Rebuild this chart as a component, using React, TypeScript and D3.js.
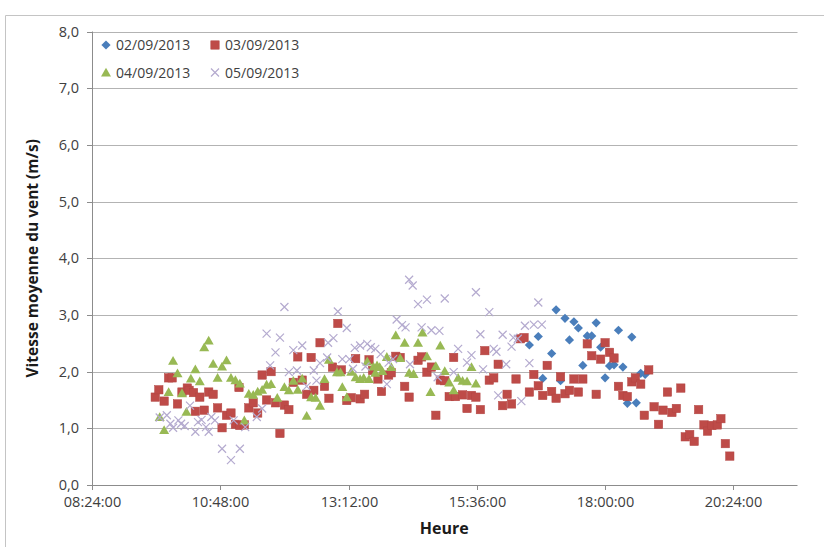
import React from "react";
import * as d3 from "d3";

const seriesNames = ["02/09/2013", "03/09/2013", "04/09/2013", "05/09/2013"];
const seriesColors = ["#4a7ebb", "#be4b48", "#98b954", "#b4aacf"];
const xTickLabels = ["08:24:00", "10:48:00", "13:12:00", "15:36:00", "18:00:00", "20:24:00"];
const yTickValues = [0, 1, 2, 3, 4, 5, 6, 7, 8];
const xTitle = "Heure";
const yTitle = "Vitesse moyenne du vent (m/s)";

const s0209: [string, number][] = [
  ["16:35", 2.47], ["16:45", 2.62], ["16:50", 1.88], ["17:00", 2.32], ["17:05", 3.09], ["17:10", 1.84],
  ["17:15", 2.94], ["17:20", 2.56], ["17:25", 2.88], ["17:30", 2.77], ["17:35", 2.11], ["17:40", 2.63],
  ["17:45", 2.63], ["17:50", 2.86], ["17:55", 2.43], ["18:00", 1.89], ["18:05", 2.1], ["18:10", 2.12],
  ["18:15", 2.73], ["18:20", 2.08], ["18:25", 1.44], ["18:30", 2.61], ["18:35", 1.45], ["18:40", 1.97],
  ["18:45", 1.95],
];

const s0309: [string, number][] = [
  ["09:35", 1.55], ["09:39", 1.68], ["09:45", 1.48], ["09:50", 1.89], ["09:54", 1.89], ["10:00", 1.43],
  ["10:05", 1.64], ["10:11", 1.71], ["10:13", 1.67], ["10:18", 1.63], ["10:20", 1.3], ["10:25", 1.55],
  ["10:30", 1.32], ["10:35", 1.64], ["10:40", 1.6], ["10:45", 1.36], ["10:50", 1.01], ["10:55", 1.23],
  ["11:00", 1.27], ["11:05", 1.07], ["11:09", 1.72], ["11:10", 1.05], ["11:15", 1.06], ["11:20", 1.36],
  ["11:25", 1.45], ["11:30", 1.27], ["11:35", 1.94], ["11:40", 1.5], ["11:45", 2.0], ["11:50", 1.45],
  ["11:55", 0.91], ["12:00", 1.41], ["12:05", 1.33], ["12:10", 1.81], ["12:15", 2.26], ["12:20", 1.85],
  ["12:25", 1.6], ["12:30", 2.25], ["12:33", 1.67], ["12:40", 2.51], ["12:45", 1.74], ["12:50", 1.53],
  ["12:54", 2.08], ["13:00", 2.85], ["13:04", 2.03], ["13:10", 1.49], ["13:15", 1.54], ["13:20", 2.23],
  ["13:25", 1.52], ["13:30", 1.6], ["13:35", 2.21], ["13:39", 2.02], ["13:45", 1.87], ["13:49", 1.65],
  ["13:57", 1.94], ["14:00", 1.98], ["14:05", 2.27], ["14:10", 2.25], ["14:15", 1.74], ["14:20", 1.55],
  ["14:30", 2.2], ["14:34", 2.26], ["14:40", 1.99], ["14:45", 2.08], ["14:50", 1.23], ["14:55", 1.85],
  ["15:00", 1.84], ["15:05", 1.56], ["15:10", 2.25], ["15:12", 1.56], ["15:20", 1.59], ["15:25", 1.35],
  ["15:30", 1.58], ["15:35", 1.55], ["15:40", 1.33], ["15:45", 2.37], ["15:50", 1.85], ["15:55", 1.89],
  ["16:00", 2.13], ["16:05", 1.4], ["16:10", 1.6], ["16:15", 1.43], ["16:20", 1.87], ["16:25", 2.58],
  ["16:29", 2.6], ["16:35", 1.64], ["16:40", 1.95], ["16:45", 1.75], ["16:50", 1.58], ["16:55", 2.11],
  ["17:00", 1.65], ["17:05", 1.53], ["17:10", 1.91], ["17:15", 1.61], ["17:20", 1.67], ["17:25", 1.87],
  ["17:30", 1.64], ["17:35", 1.87], ["17:40", 2.49], ["17:45", 2.28], ["17:50", 1.6], ["17:55", 2.22],
  ["18:00", 2.51], ["18:05", 2.34], ["18:10", 2.24], ["18:15", 1.74], ["18:20", 1.58], ["18:25", 1.56],
  ["18:30", 1.82], ["18:34", 1.89], ["18:40", 1.78], ["18:44", 1.23], ["18:49", 2.03], ["18:55", 1.38],
  ["19:00", 1.07], ["19:05", 1.32], ["19:10", 1.64], ["19:15", 1.28], ["19:20", 1.35], ["19:25", 1.71],
  ["19:30", 0.85], ["19:35", 0.89], ["19:40", 0.77], ["19:45", 1.33], ["19:51", 1.06], ["19:55", 0.95],
  ["20:00", 1.05], ["20:06", 1.06], ["20:10", 1.17], ["20:15", 0.73], ["20:20", 0.51],
];

const s0409: [string, number][] = [
  ["09:40", 1.2], ["09:45", 0.97], ["09:50", 1.64], ["09:55", 2.19], ["10:00", 1.97], ["10:05", 1.62],
  ["10:10", 1.29], ["10:15", 1.88], ["10:20", 2.04], ["10:25", 1.83], ["10:30", 2.43], ["10:35", 2.55],
  ["10:40", 2.14], ["10:45", 1.89], ["10:50", 2.09], ["10:55", 2.2], ["11:00", 1.89], ["11:05", 1.85],
  ["11:10", 1.79], ["11:15", 1.14], ["11:20", 1.61], ["11:25", 1.59], ["11:30", 1.65], ["11:35", 1.68],
  ["11:40", 1.77], ["11:45", 1.78], ["11:52", 1.54], ["12:00", 1.73], ["12:05", 1.67], ["12:10", 1.84],
  ["12:15", 1.68], ["12:20", 1.88], ["12:25", 1.22], ["12:30", 1.55], ["12:35", 1.54], ["12:40", 1.4],
  ["12:45", 1.87], ["12:50", 2.21], ["12:59", 1.99], ["13:03", 1.99], ["13:05", 1.73], ["13:10", 1.55],
  ["13:15", 2.0], ["13:20", 1.9], ["13:25", 1.87], ["13:29", 1.89], ["13:33", 2.18], ["13:35", 1.87],
  ["13:40", 2.09], ["13:42", 1.98], ["13:44", 2.11], ["13:47", 2.08], ["13:50", 2.01], ["13:55", 2.26],
  ["14:00", 2.08], ["14:05", 2.64], ["14:10", 2.24], ["14:15", 2.51], ["14:20", 1.98], ["14:25", 1.96],
  ["14:30", 2.51], ["14:35", 2.69], ["14:40", 2.27], ["14:44", 1.64], ["14:50", 2.1], ["14:55", 2.46],
  ["15:00", 2.01], ["15:05", 1.81], ["15:10", 1.67], ["15:15", 1.89], ["15:20", 1.84], ["15:25", 1.83],
  ["15:30", 2.08], ["15:35", 1.79],
];

const s0509: [string, number][] = [
  ["09:40", 1.19], ["09:48", 1.23], ["09:52", 1.08], ["09:55", 1.01], ["10:01", 1.14], ["10:04", 1.08],
  ["10:08", 1.04], ["10:14", 1.4], ["10:20", 0.94], ["10:23", 1.11], ["10:27", 1.15], ["10:32", 1.02],
  ["10:35", 0.94], ["10:38", 1.2], ["10:42", 1.14], ["10:50", 0.64], ["11:00", 0.44], ["11:03", 1.14],
  ["11:10", 0.64], ["11:16", 1.02], ["11:29", 1.2], ["11:35", 1.35], ["11:40", 2.67], ["11:44", 2.11],
  ["11:50", 2.34], ["11:55", 2.6], ["12:00", 3.14], ["12:05", 1.99], ["12:10", 2.38], ["12:14", 2.02],
  ["12:20", 2.46], ["12:25", 1.74], ["12:33", 2.02], ["12:36", 1.84], ["12:40", 2.15], ["12:48", 2.25],
  ["12:49", 2.51], ["12:55", 2.59], ["13:00", 3.06], ["13:05", 2.22], ["13:10", 2.77], ["13:13", 2.22],
  ["13:17", 2.05], ["13:19", 2.42], ["13:25", 2.46], ["13:31", 2.09], ["13:33", 2.49], ["13:37", 2.43],
  ["13:42", 2.4], ["13:48", 2.31], ["13:55", 1.78], ["13:57", 2.16], ["14:02", 2.22], ["14:06", 2.92],
  ["14:12", 2.82], ["14:16", 2.78], ["14:20", 3.62], ["14:21", 2.13], ["14:24", 3.52], ["14:30", 3.19],
  ["14:34", 2.78], ["14:40", 3.27], ["14:45", 2.73], ["14:52", 1.9], ["14:54", 2.72], ["15:00", 3.29],
  ["15:10", 1.99], ["15:15", 2.4], ["15:25", 2.16], ["15:30", 2.29], ["15:35", 3.4], ["15:40", 2.66],
  ["15:43", 2.04], ["15:50", 3.05], ["15:55", 2.4], ["15:58", 2.35], ["16:00", 1.58], ["16:05", 2.65],
  ["16:09", 2.13], ["16:15", 2.44], ["16:17", 2.6], ["16:22", 2.58], ["16:26", 1.48], ["16:30", 2.81],
  ["16:35", 2.15], ["16:40", 2.83], ["16:45", 3.22], ["16:49", 2.83],
];

const allSeries = [s0209, s0309, s0409, s0509];

const toDayFraction = (s: string) => {
  const p = s.split(":").map(Number);
  return (p[0] * 60 + p[1] + (p[2] || 0) / 60) / 1440;
};

const W = 824;
const H = 547;
const FONT = "'Open Sans', 'Liberation Sans', sans-serif";

function Marker({ kind, color }: { kind: number; color: string }) {
  if (kind === 0) {
    const r = 4.6;
    return <path d={`M0,${-r}L${r},0L0,${r}L${-r},0Z`} fill={color} />;
  }
  if (kind === 1) {
    return <rect x={-4.2} y={-4.2} width={8.4} height={8.4} fill={color} stroke="#b24542" strokeWidth={0.5} />;
  }
  if (kind === 2) {
    return <path d="M0,-4.8L5,4L-5,4Z" fill={color} />;
  }
  const r = 4;
  return (
    <path d={`M${-r},${-r}L${r},${r}M${-r},${r}L${r},${-r}`} stroke={color} strokeWidth={1.2} fill="none" />
  );
}

export default function App() {
  const left = 92;
  const right = 797.5;
  const top = 31.5;
  const bottom = 485;

  const x = d3.scaleLinear().domain([0.35, 0.9]).range([left, right]);
  const y = d3.scaleLinear().domain([0, 8]).range([bottom, top]);

  const fmtY = (v: number) => d3.format(".1f")(v).replace(".", ",");

  return (
    <svg
      width={W}
      height={H}
      style={{ position: "absolute", left: 0, top: 0, background: "#fff" }}
      fontFamily={FONT}
    >
      <rect x={0} y={0} width={W} height={H} fill="#fff" />
      {/* chart area border */}
      <line x1={5.5} y1={15.5} x2={W} y2={15.5} stroke="#c4c4c4" strokeWidth={1} />
      <line x1={5.5} y1={15.5} x2={5.5} y2={H} stroke="#c4c4c4" strokeWidth={1} />

      {/* gridlines */}
      {yTickValues.filter((v) => v > 0).map((v) => (
        <line key={"g" + v} x1={left} x2={right} y1={Math.round(y(v)) + 0.5} y2={Math.round(y(v)) + 0.5} stroke="#b3b3b3" strokeWidth={1} />
      ))}

      {/* axes */}
      <line x1={left + 0.5} x2={left + 0.5} y1={top} y2={bottom} stroke="#8c8c8c" />
      <line x1={left} x2={right} y1={bottom + 0.5} y2={bottom + 0.5} stroke="#8c8c8c" />
      {yTickValues.map((v) => (
        <g key={"yt" + v}>
          <line x1={left - 5} x2={left} y1={Math.round(y(v)) + 0.5} y2={Math.round(y(v)) + 0.5} stroke="#8c8c8c" />
          <text x={left - 13} y={y(v)} dy="0.35em" textAnchor="end" fontSize={14.5} fill="#404040">
            {fmtY(v)}
          </text>
        </g>
      ))}
      {xTickLabels.map((lab) => {
        const px = Math.round(x(toDayFraction(lab))) + 0.5;
        return (
          <g key={"xt" + lab}>
            <line x1={px} x2={px} y1={bottom} y2={bottom + 5} stroke="#8c8c8c" />
            <text x={px} y={bottom + 22} textAnchor="middle" fontSize={14.5} fill="#404040">
              {lab}
            </text>
          </g>
        );
      })}

      {/* titles */}
      <text x={(left + right) / 2 - 0.5} y={534} textAnchor="middle" fontSize={16} fontWeight="bold" fill="#1a1a1a">
        {xTitle}
      </text>
      <text
        transform={`translate(38,${(top + bottom) / 2}) rotate(-90)`}
        textAnchor="middle"
        fontSize={15.5}
        fontWeight="bold"
        fill="#1a1a1a"
      >
        {yTitle}
      </text>

      {/* data */}
      {allSeries.map((s, si) => (
        <g key={"s" + si}>
          {s.map(([t, v], i) => (
            <g key={i} transform={`translate(${x(toDayFraction(t))},${y(v)})`}>
              <Marker kind={si} color={seriesColors[si]} />
            </g>
          ))}
        </g>
      ))}

      {/* legend */}
      {seriesNames.map((name, i) => {
        const col = i % 2;
        const row = Math.floor(i / 2);
        const mx = 106 + col * 109;
        const my = 45 + row * 27.5;
        return (
          <g key={"lg" + i}>
            <g transform={`translate(${mx},${my})`}>
              <Marker kind={i} color={seriesColors[i]} />
            </g>
            <text x={mx + 10} y={my} dy="0.36em" fontSize={14} fill="#404040">
              {name}
            </text>
          </g>
        );
      })}
    </svg>
  );
}
